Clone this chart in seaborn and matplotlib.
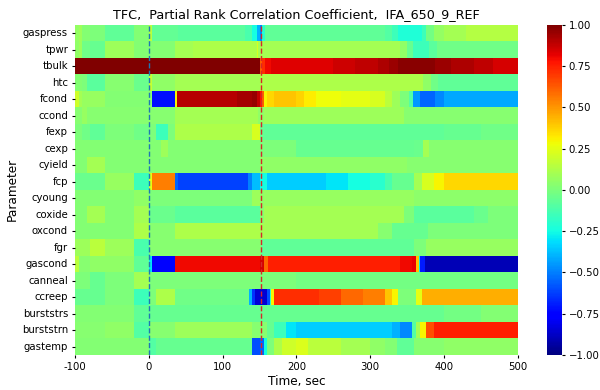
import numpy as np
import pandas as pd
import seaborn as sns
import matplotlib.pyplot as plt

# each parameter: list of (start time [s], coefficient) pieces
gaspress = [(-100, 0.06), (-95, 0.08), (-90, 0.02), (-80, 0.0), (-60, -0.07), (-20, 0.02), (0, 0.15), (4, -0.06),
            (40, -0.08), (130, -0.12), (140, -0.25), (146, -0.4), (150, -0.5), (154, -0.2), (158, -0.07),
            (320, -0.1), (330, -0.15), (338, -0.22), (370, -0.15), (376, -0.02), (386, 0.06), (400, 0.1),
            (430, 0.14)]
tpwr = [(-100, 0.05), (-95, 0.08), (-90, -0.03), (-80, -0.05), (-60, 0.08), (-20, 0.02), (0, 0.02), (35, 0.1),
        (60, 0.12), (145, 0.22), (148, 0.1), (155, 0.1), (340, 0.05), (350, -0.05), (358, -0.15), (380, -0.08),
        (390, -0.03)]
tbulk = [(-100, 1.0), (150, 0.62), (154, 0.72), (158, 0.8), (165, 0.83), (250, 0.86), (280, 0.89), (310, 0.92),
         (325, 0.95), (338, 0.98), (388, 0.95), (410, 0.92), (440, 0.89), (465, 0.85)]
htc = [(-100, 0.02), (-90, 0.0), (-85, -0.08), (-60, 0.03), (-20, -0.04), (0, 0.18), (4, 0.05), (35, 0.1),
       (150, 0.12), (372, 0.05), (382, -0.03), (392, -0.07)]
fcond = [(-100, 0.2), (-95, 0.1), (-90, 0.07), (-60, 0.02), (0, 0.03), (3, -0.72), (35, 0.3), (37, 0.9),
         (120, 0.93), (140, 0.96), (146, 0.88), (150, 0.78), (153, 0.62), (156, 0.3), (160, 0.36), (170, 0.4),
         (200, 0.37), (210, 0.32), (225, 0.28), (260, 0.25), (300, 0.22), (320, 0.15), (330, 0.08),
         (340, 0.0), (352, -0.1), (358, -0.45), (368, -0.55), (388, -0.48), (400, -0.42)]
ccond = [(-100, 0.03), (-90, 0.07), (-85, 0.03), (0, 0.03), (35, 0.1), (148, 0.05), (155, 0.08), (345, 0.03)]
fexp = [(-100, 0.0), (-90, -0.03), (-80, -0.07), (-60, 0.0), (-20, -0.03), (0, 0.0), (10, -0.15), (25, 0.0),
        (35, 0.12), (140, 0.22), (150, -0.05), (155, -0.07), (400, -0.05), (450, -0.03)]
cexp = [(-100, 0.02), (0, 0.02), (15, 0.08), (25, 0.02), (150, 0.0), (200, -0.05), (360, -0.04), (372, 0.1),
        (380, 0.03)]
cyield = [(-100, 0.02), (-85, 0.1), (-60, 0.02), (0, 0.02), (150, 0.05), (350, 0.03)]
fcp = [(-100, -0.04), (-60, 0.07), (-20, -0.15), (0, 0.25), (3, 0.55), (35, -0.55), (40, -0.62), (134, -0.5),
       (140, -0.38), (150, -0.25), (160, -0.35), (240, -0.3), (270, -0.25), (300, -0.2), (320, -0.12),
       (330, -0.05), (360, 0.1), (370, 0.22), (385, 0.3), (400, 0.36)]
cyoung = [(-100, 0.02), (-20, 0.05), (0, 0.0), (140, 0.08), (150, 0.05), (155, 0.07), (360, 0.04)]
coxide = [(-100, 0.02), (-85, 0.1), (-60, 0.02), (-20, 0.1), (0, -0.04), (35, -0.08), (150, 0.03), (155, 0.1),
          (345, 0.0), (360, -0.08), (440, -0.04), (460, 0.0)]
oxcond = [(-100, 0.02), (-20, 0.12), (0, 0.03), (35, 0.12), (150, 0.1), (310, 0.03), (330, -0.05), (378, 0.0)]
fgr = [(-100, 0.08), (-80, 0.15), (-60, 0.08), (-20, -0.12), (0, 0.03), (152, -0.07), (360, 0.0), (375, 0.07)]
gascond = [(-100, 0.15), (-95, 0.03), (-80, 0.05), (-20, -0.07), (0, -0.3), (3, -0.75), (35, 0.8), (150, 0.85),
           (155, 0.6), (162, 0.75), (340, 0.8), (355, 0.82), (362, 0.4), (365, -0.3), (368, -0.7), (373, -0.9)]
canneal = [(-100, 0.0), (-80, -0.05), (-60, 0.0), (-20, 0.1), (0, 0.0), (200, -0.02)]
ccreep = [(-100, -0.05), (-60, 0.0), (-20, -0.15), (0, 0.0), (10, 0.12), (35, -0.03), (136, -0.4),
          (140, -0.65), (144, -0.85), (160, -0.6), (164, -0.2), (166, 0.3), (170, 0.72), (230, 0.68),
          (260, 0.6), (290, 0.55), (320, 0.4), (330, 0.3), (338, 0.0), (362, 0.25), (370, 0.45)]
burststrs = [(-100, 0.02), (-20, -0.07), (0, -0.05), (150, -0.05), (400, -0.02), (450, 0.02)]
burststrn = [(-100, 0.03), (-60, 0.05), (-20, -0.1), (0, 0.03), (35, 0.08), (140, 0.03), (160, -0.05),
             (170, -0.15), (185, -0.3), (200, -0.35), (330, -0.4), (340, -0.48), (355, -0.1), (362, 0.1),
             (368, 0.3), (375, 0.65), (385, 0.75)]
gastemp = [(-100, 0.02), (0, -0.1), (10, -0.05), (140, -0.6), (150, -0.55), (155, -0.25), (160, 0.0),
           (170, 0.12), (180, 0.2), (200, 0.23), (215, 0.15), (260, 0.1), (300, 0.05), (320, 0.02), (335, -0.07),
           (360, 0.03), (400, 0.05)]

params = ["gaspress", "tpwr", "tbulk", "htc", "fcond", "ccond", "fexp", "cexp", "cyield", "fcp",
          "cyoung", "coxide", "oxcond", "fgr", "gascond", "canneal", "ccreep", "burststrs", "burststrn", "gastemp"]
rows = [gaspress, tpwr, tbulk, htc, fcond, ccond, fexp, cexp, cyield, fcp,
        cyoung, coxide, oxcond, fgr, gascond, canneal, ccreep, burststrs, burststrn, gastemp]

t_start, t_end, dt = -100, 500, 2
times = np.arange(t_start, t_end, dt)


def expand(pieces):
    starts = np.array([p[0] for p in pieces])
    vals = np.array([p[1] for p in pieces])
    idx = np.searchsorted(starts, times, side="right") - 1
    return vals[idx]


df = pd.DataFrame([expand(r) for r in rows], index=params, columns=times)

plt.rcParams["xtick.major.size"] = 2.5
plt.rcParams["ytick.major.size"] = 2.5
plt.rcParams["xtick.major.pad"] = 2.5
plt.rcParams["ytick.major.pad"] = 2.5

fig = plt.figure(figsize=(6, 3.9), dpi=100)
ax = fig.add_axes([0.125, 0.09, 0.738, 0.846])
cax = fig.add_axes([0.911, 0.09, 0.025, 0.846])

sns.heatmap(df, cmap="jet", vmin=-1, vmax=1, ax=ax, cbar_ax=cax, xticklabels=False, yticklabels=params)

xt = np.arange(-100, 501, 100)
ax.set_xticks((xt - t_start) / dt)
ax.set_xticklabels([str(v) for v in xt], rotation=0)
ax.tick_params(axis="y", rotation=0, labelsize=7.3)
ax.tick_params(axis="x", labelsize=7.3)
ax.axvline((0 - t_start) / dt, color="tab:blue", linestyle="--", linewidth=1)
ax.axvline((152 - t_start) / dt, color="tab:red", linestyle="--", linewidth=1)

cax.set_yticks(np.arange(-1, 1.01, 0.25))
cax.tick_params(labelsize=7.3)

ax.set_title("TFC,  Partial Rank Correlation Coefficient,  IFA_650_9_REF", fontsize=9.2, pad=5)
ax.set_xlabel("Time, sec", fontsize=8.7, labelpad=2)
ax.set_ylabel("Parameter", fontsize=8.7, labelpad=2)

plt.savefig("out.png", dpi=100)
